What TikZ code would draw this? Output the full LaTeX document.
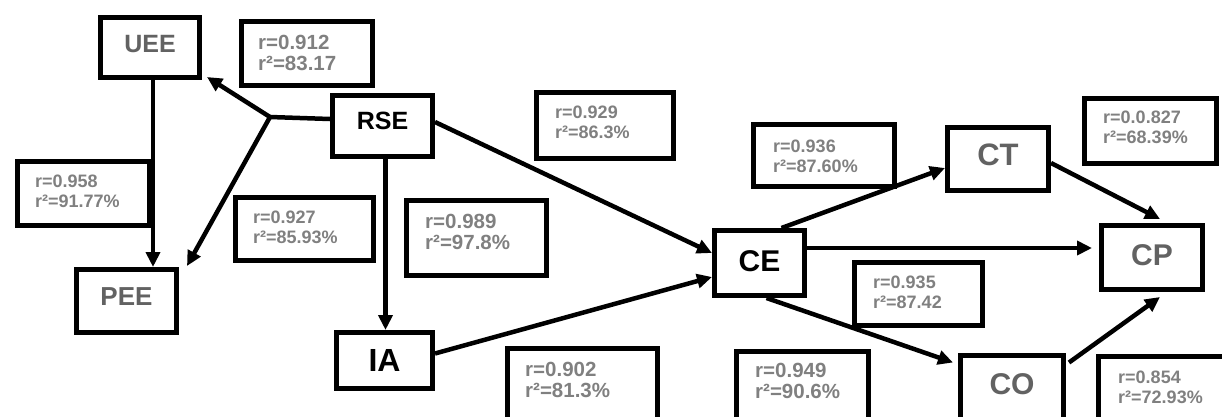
\documentclass[tikz,border=0pt]{standalone}
\usepackage{fontspec}
\setmainfont{Liberation Sans}
\usetikzlibrary{arrows.meta,calc}
\definecolor{nodegrey}{RGB}{98,98,98}
\definecolor{labelgrey}{RGB}{128,128,128}
% two stacked lines, baseline on the first one
\newcommand\pairtext[2]{\vtop{\hbox{#1}\hbox{#2}}}

\begin{document}
\begin{tikzpicture}[x=1pt,y=-1pt,
  box/.style={draw, line width=5pt, rectangle, inner sep=0pt},
  valbox/.style={draw, line width=5pt, rectangle, inner sep=0pt, anchor=north west},
  valtext/.style={anchor=base west, inner sep=0pt, text=labelgrey,
                  font=\bfseries\fontsize{18}{20}\selectfont},
  valtextlg/.style={valtext, font=\bfseries\fontsize{20.5}{21.5}\selectfont},
  plain/.style={line width=4.5pt},
  link/.style={line width=4.5pt, -{Triangle[length=15pt,width=14pt]}},
]
\useasboundingbox (0,0) rectangle (1222,416);
\fill[white] (0,0) rectangle (1222,416);
\clip (0,0) rectangle (1222,416);

% construct nodes
\node[box, minimum width=99pt, minimum height=60pt, text=nodegrey, text depth=7pt,
      font=\bfseries\fontsize{25}{30}\selectfont] (UEE) at (150,47.5) {UEE};
\node[box, minimum width=100pt, minimum height=61pt, text=black, text depth=10pt,
      font=\bfseries\fontsize{25}{30}\selectfont] (RSE) at (382.5,126) {RSE};
\node[box, minimum width=100pt, minimum height=63pt, text=nodegrey, text depth=8pt,
      font=\bfseries\fontsize{26}{31}\selectfont] (PEE) at (126.5,301) {PEE};
\node[box, minimum width=96pt, minimum height=56pt, text=black,
      font=\bfseries\fontsize{32}{38}\selectfont] (IA) at (384.5,360.5) {IA};
\node[box, minimum width=90pt, minimum height=65pt, text=black, text depth=4pt,
      font=\bfseries\fontsize{30}{36}\selectfont] (CE) at (759.5,263) {CE};
\node[box, minimum width=101pt, minimum height=63pt, text=nodegrey, text depth=8pt,
      font=\bfseries\fontsize{31}{37}\selectfont] (CT) at (998,159) {CT};
\node[box, minimum width=101pt, minimum height=64pt, text=nodegrey, text depth=4pt,
      font=\bfseries\fontsize{30}{36}\selectfont] (CP) at (1152,257.5) {CP};
\node[box, minimum width=103pt, minimum height=64pt, text=nodegrey, text depth=5pt,
      font=\bfseries\fontsize{30}{36}\selectfont] (CO) at (1012,387) {CO};

% correlation boxes
\node[valbox, minimum width=131pt, minimum height=64pt] (v1) at (238.5,18.5) {};
\node[valtextlg] (t1) at (258,49.3) {\pairtext{r=0.912}{r²=83.17}};
\node[valbox, minimum width=132pt, minimum height=64pt] (v2) at (14.5,158.5) {};
\node[valtext] (t2) at (35,187) {\pairtext{r=0.958}{r²=91.77\%}};
\node[valbox, minimum width=138pt, minimum height=63pt] (v3) at (232.5,194.5) {};
\node[valtext] (t3) at (253,223) {\pairtext{r=0.927}{r²=85.93\%}};
\node[valbox, minimum width=140pt, minimum height=75pt] (v4) at (403.5,197.5) {};
\node[valtextlg] (t4) at (425,228) {\pairtext{r=0.989}{r²=97.8\%}};
\node[valbox, minimum width=137pt, minimum height=66pt] (v5) at (533.5,89.5) {};
\node[valtext] (t5) at (555,118) {\pairtext{r=0.929}{r²=86.3\%}};
\node[valbox, minimum width=141pt, minimum height=62pt] (v6) at (750.5,121.5) {};
\node[valtext] (t6) at (773,152) {\pairtext{r=0.936}{r²=87.60\%}};
\node[valbox, minimum width=132pt, minimum height=65pt] (v7) at (1081.5,95.5) {};
\node[valtext] (t7) at (1103,123) {\pairtext{r=0.0.827}{r²=68.39\%}};
\node[valbox, minimum width=128pt, minimum height=63pt] (v8) at (851.5,259.5) {};
\node[valtext] (t8) at (873,288) {\pairtext{r=0.935}{r²=87.42}};
\node[valbox, minimum width=150pt, minimum height=95pt] (v9) at (504.5,345.5) {};
\node[valtextlg] (t9) at (525,376) {\pairtext{r=0.902}{r²=81.3\%}};
\node[valbox, minimum width=132pt, minimum height=92pt] (v10) at (733.5,348.5) {};
\node[valtextlg] (t10) at (755,377) {\pairtext{r=0.949}{r²=90.6\%}};
\node[valbox, minimum width=155pt, minimum height=87pt] (v11) at (1095.5,353.5) {};
\node[valtext] (t11) at (1118,383) {\pairtext{r=0.854}{r²=72.93\%}};

% paths between constructs
\coordinate (J) at (270,117);
\coordinate (ueeout) at ($(UEE.south)+(3,0)$);
\coordinate (rseout) at ($(RSE.south)+(3,0)$);
\coordinate (ceout) at ($(CE.east)+(0,-15)$);
\draw[plain] ($(RSE.west)+(0,-7)$) -- (J);
\draw[link] (J) -- ($(UEE.south east)+(5,-3)$);
\draw[link] (J) -- ($(PEE.north east)+(8,-1)$);
\draw[link] (ueeout) -- (ueeout |- PEE.north);
\draw[link] (rseout) -- (rseout |- IA.north);
\draw[link] ($(RSE.east)+(0,-4)$) -- ($(CE.west)+(0,-10)$);
\draw[link] ($(IA.east)+(0,-7)$) -- ($(CE.west)+(0,14)$);
\draw[link] ($(CE.north)+(22,0)$) -- ($(CT.west)+(0,9)$);
\draw[link, shorten >=7pt] (ceout) -- (ceout -| CP.west);
\draw[link] ($(CT.east)+(0,4)$) -- ($(CP.north)+(8,-4)$);
\draw[link] ($(CE.south)+(7,0)$) -- ($(CO.north west)+(-5,10)$);
\draw[link] ($(CO.north east)+(3,10)$) -- ($(CP.south)+(8,5)$);
\end{tikzpicture}
\end{document}
